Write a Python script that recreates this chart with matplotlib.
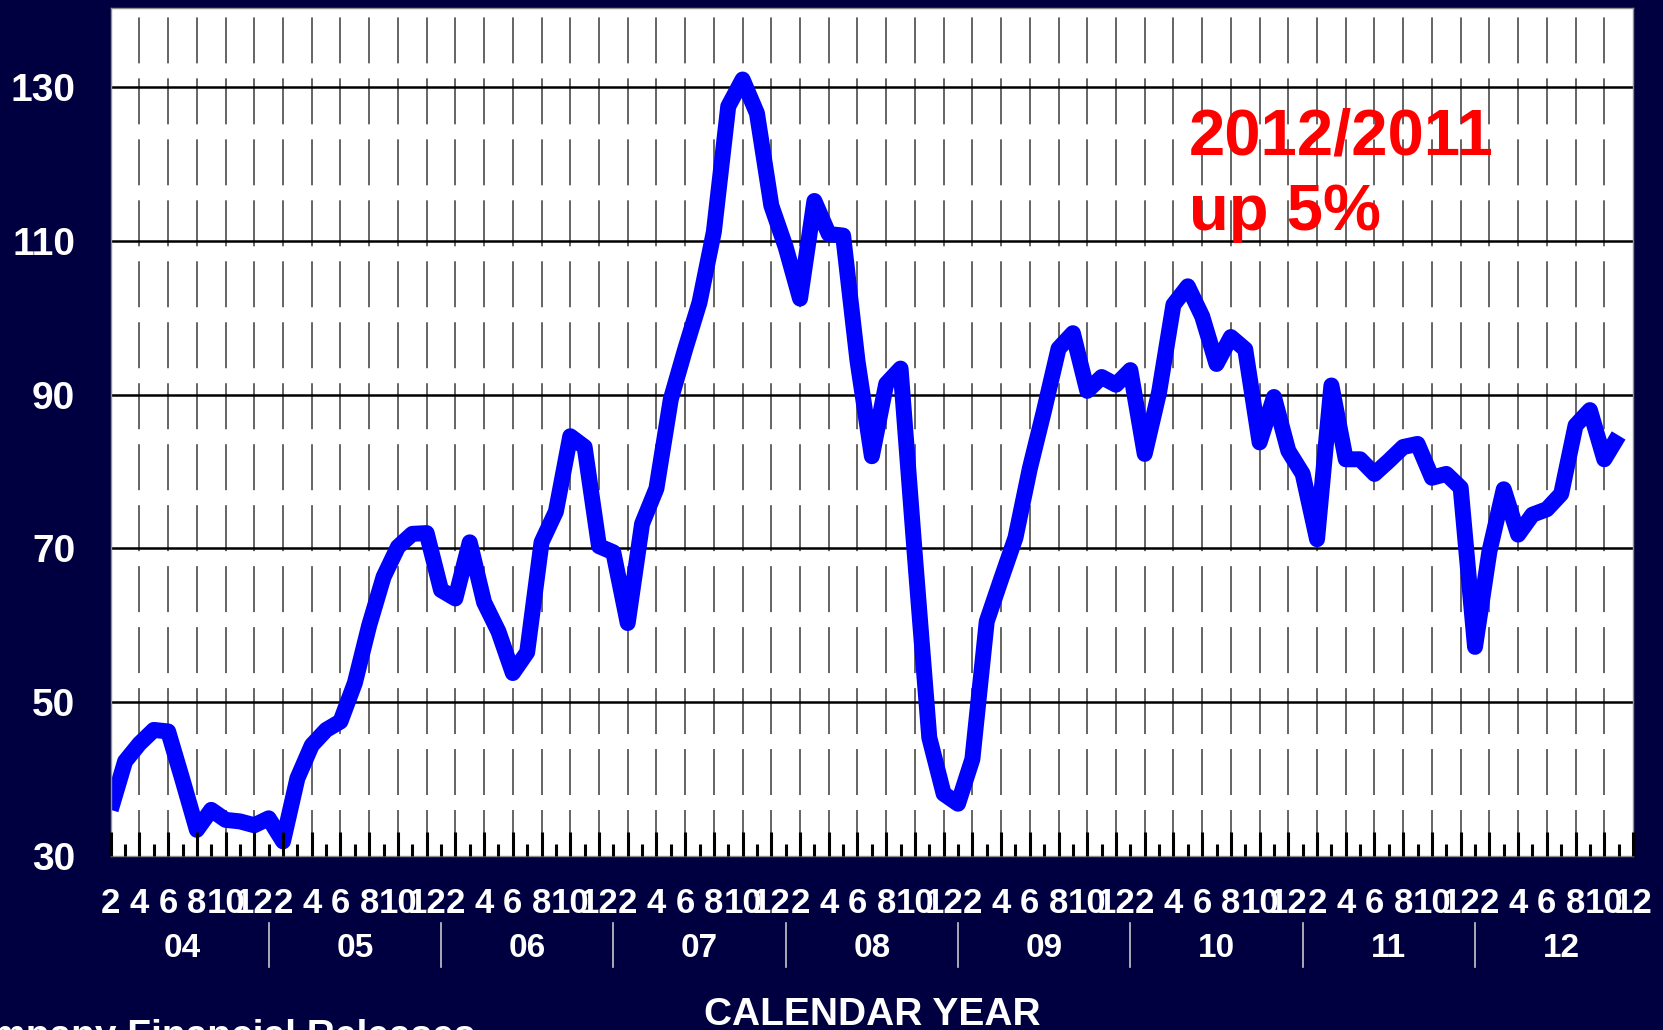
import matplotlib
matplotlib.use('Agg')
import matplotlib.pyplot as plt
import matplotlib.transforms as mtransforms

plt.rcParams['font.family'] = ['Liberation Sans', 'DejaVu Sans']
plt.rcParams['lines.scale_dashes'] = False

# ---------------- data ----------------
# monthly index, Feb 2004 .. Nov 2012
values = [
    36.0, 42.3, 44.6, 46.4, 46.2, 39.9, 33.4, 36.0, 34.7, 34.5, 34.0,   # 2004 Feb-Dec
    34.9, 31.9, 40.1, 44.4, 46.4, 47.5, 52.5, 60.0, 66.3, 70.2, 71.9, 72.0,  # 2005
    64.6, 63.5, 70.8, 63.0, 59.2, 53.8, 56.5, 70.8, 74.8, 84.6, 83.2, 70.3,  # 2006
    69.5, 60.3, 73.2, 77.8, 89.4, 95.9, 102.0, 111.2, 127.5, 131.0, 126.6, 114.6,  # 2007
    109.2, 102.5, 115.2, 110.9, 110.7, 94.4, 82.0, 91.4, 93.4, 69.0, 45.4, 38.1,  # 2008
    36.8, 42.6, 60.5, 66.0, 71.4, 80.4, 88.0, 96.0, 98.0, 90.5, 92.3, 91.3,  # 2009
    93.2, 82.3, 90.3, 101.7, 104.1, 100.2, 94.0, 97.5, 95.9, 83.8, 89.7, 82.7,  # 2010
    79.7, 71.2, 91.2, 81.6, 81.6, 79.7, 81.4, 83.2, 83.6, 79.2, 79.7, 77.9,  # 2011
    57.2, 69.6, 77.7, 71.8, 74.4, 75.1, 77.1, 86.0, 88.0, 81.6, 84.7,       # 2012 Jan-Nov
]
n_categories = 107          # Feb 2004 .. Dec 2012
month_labels = ['2', '4', '6', '8', '10', '12'] * 9
year_labels = ['04', '05', '06', '07', '08', '09', '10', '11', '12']
y_ticks = [30, 50, 70, 90, 110, 130]
y_grid = [50, 70, 90, 110, 130]
annotation = ['2012/2011', 'up 5%']
x_title = 'CALENDAR YEAR'
source = 'Source: Company Financial Releases'

# ---------------- layout ----------------
W, H = 1663, 1030
BG = '#000040'
fig = plt.figure(figsize=(W / 100, H / 100), dpi=100, facecolor=BG)
ax_l, ax_r, ax_t, ax_b = 110.7, 1633.0, 8.0, 856.0
ax = fig.add_axes([ax_l / W, 1 - ax_b / H, (ax_r - ax_l) / W, (ax_b - ax_t) / H])
ax.set_facecolor('white')
last = n_categories - 1
ax.set_xlim(0, last)
ax.set_ylim(30, 140.3)

# grid
ax.vlines(list(range(2, last, 2)), 30, 140.3, colors='#3a3a3a', linewidth=1.1,
          linestyles=(0, (33.1, 10.8)), zorder=1)
ax.hlines(y_grid, 0, last, colors='black', linewidth=1.8, zorder=1.2)

# series
ax.plot(range(len(values)), values, color='#0000FF', linewidth=11.5,
        solid_joinstyle='round', solid_capstyle='butt', zorder=2)

# ticks
ax.set_axisbelow(False)
ax.set_xticks(list(range(0, n_categories, 2)))
ax.set_xticks(list(range(1, n_categories, 2)), minor=True)
ax.tick_params(axis='x', which='major', direction='in', length=17.3, width=2.2,
               color='black', labelbottom=False, top=False)
ax.tick_params(axis='x', which='minor', direction='in', length=8.6, width=2.2,
               color='black', top=False)
ax.set_yticks(y_ticks)
ax.set_yticklabels([str(v) for v in y_ticks])
ax.tick_params(axis='y', length=0, pad=25.5, labelcolor='white', labelsize=28)
for lab in ax.get_yticklabels():
    lab.set_fontweight('bold')
for sp in ax.spines.values():
    sp.set_color('#909090')
    sp.set_linewidth(1.0)

# category labels below
blend = mtransforms.blended_transform_factory(ax.transData, fig.transFigure)
for k, lab in enumerate(month_labels):
    ax.text(2 * k, 1 - 913 / H, lab, transform=blend, ha='center', va='baseline',
            color='white', fontsize=25, fontweight='bold', clip_on=False)
for j, lab in enumerate(year_labels):
    ax.text(12 * j + 5, 1 - 957 / H, lab, transform=blend, ha='center', va='baseline',
            color='white', fontsize=24, fontweight='bold', clip_on=False)
for j in range(len(year_labels) - 1):
    ax.plot([12 * j + 11] * 2, [1 - 923 / H, 1 - 967 / H], transform=blend,
            color='#c8c8c8', linewidth=1.2, clip_on=False)

blend_ax = mtransforms.blended_transform_factory(ax.transAxes, fig.transFigure)
ax.text(0.5, 1 - 1025 / H, x_title, transform=blend_ax, ha='center', va='baseline',
        color='white', fontsize=28, fontweight='bold', clip_on=False)
fig.text(475 / W, 1 - 1047 / H, source, ha='right', va='baseline',
         color='white', fontsize=28, fontweight='bold')

# annotation
ax.text(75.05, 121.2, annotation[0], color='#FF0000', fontsize=47,
        fontweight='bold', ha='left', va='baseline', zorder=4)
ax.text(75.05, 111.4, annotation[1], color='#FF0000', fontsize=47,
        fontweight='bold', ha='left', va='baseline', zorder=4)

fig.savefig('out.png', dpi=100, facecolor=BG)
